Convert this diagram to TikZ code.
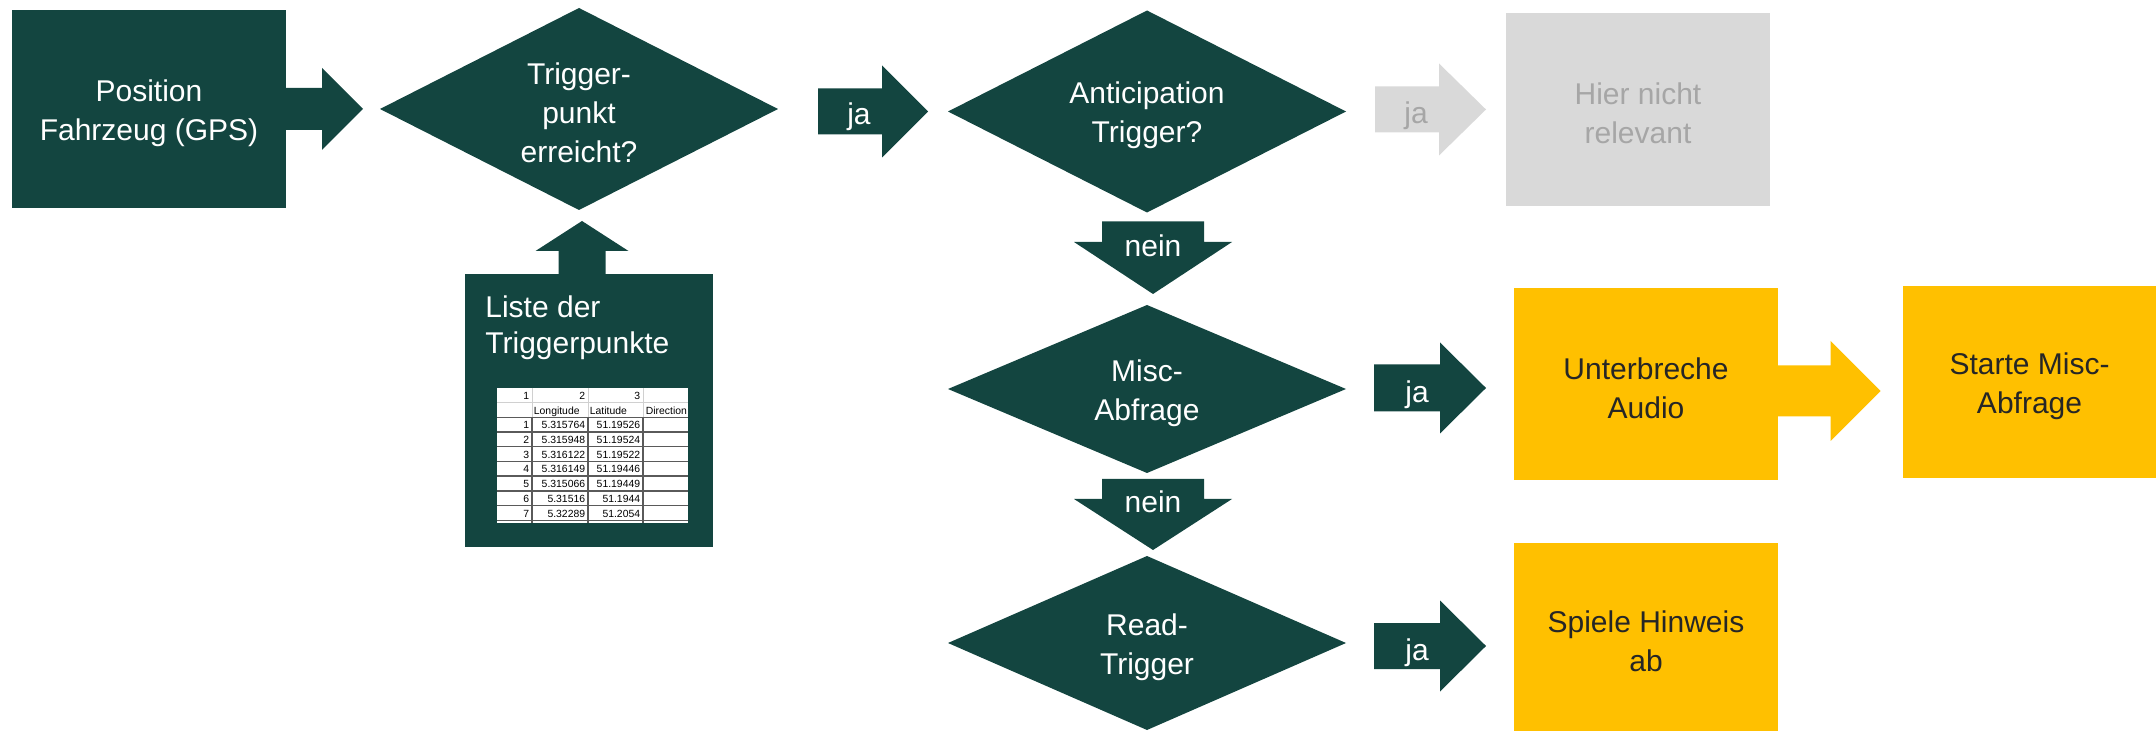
\documentclass[tikz,border=0pt]{standalone}
\usepackage{fontspec}
\setmainfont{Liberation Sans}
\usetikzlibrary{shapes.geometric,calc}

\definecolor{dgreen}{HTML}{134540}
\definecolor{amber}{HTML}{FFC000}
\definecolor{lgray}{HTML}{D9D9D9}
\definecolor{tgray}{HTML}{A6A6A6}
\definecolor{dtext}{HTML}{262626}
\definecolor{gridlight}{HTML}{D0D0D0}
\definecolor{griddark}{HTML}{5A5A5A}

% a taller first line sets a text block a little lower in its shape
\newcommand\toppad{\rule{0pt}{14.8pt}}

% block arrows: #1 start, #2 tip, #3 shaft half width, #4 head half width, #5 head length, #6 fill
\newcommand\fatarrowright[6]{%
  \fill[#6] let \p1=(#1), \p2=(#2) in
    (\x1,\y2+#3) -- (\x2-#5,\y2+#3) -- (\x2-#5,\y2+#4) -- (\x2,\y2)
    -- (\x2-#5,\y2-#4) -- (\x2-#5,\y2-#3) -- (\x1,\y2-#3) -- cycle;}
\newcommand\fatarrowdown[6]{%
  \fill[#6] let \p1=(#1), \p2=(#2) in
    (\x2-#3,\y1) -- (\x2-#3,\y2+#5) -- (\x2-#4,\y2+#5) -- (\x2,\y2)
    -- (\x2+#4,\y2+#5) -- (\x2+#3,\y2+#5) -- (\x2+#3,\y1) -- cycle;}
\newcommand\fatarrowup[6]{%
  \fill[#6] let \p1=(#1), \p2=(#2) in
    (\x2-#3,\y1) -- (\x2-#3,\y2-#5) -- (\x2-#4,\y2-#5) -- (\x2,\y2)
    -- (\x2+#4,\y2-#5) -- (\x2+#3,\y2-#5) -- (\x2+#3,\y1) -- cycle;}

\begin{document}
\begin{tikzpicture}[x=0.5pt,y=-0.5pt,
  txt/.style={font=\fontsize{15pt}{19.5pt}\selectfont, align=center},
  greenbox/.style={txt, rectangle, fill=dgreen, text=white, inner sep=0pt, outer sep=0pt},
  yellowbox/.style={txt, rectangle, fill=amber, text=dtext, inner sep=0pt, outer sep=0pt},
  greybox/.style={txt, rectangle, fill=lgray, text=tgray, inner sep=0pt, outer sep=0pt},
  decision/.style={txt, diamond, aspect=2, fill=dgreen, text=white, inner sep=0pt, outer sep=0pt,
    minimum width=199pt},
  lbl/.style={txt, text=white, inner sep=0pt},
  cell/.style={font=\fontsize{5.2pt}{6pt}\selectfont, inner sep=0pt, text=black},
  hdrline/.style={draw=gridlight, line width=0.5pt},
  rowline/.style={draw=griddark, line width=0.7pt}]

\useasboundingbox (0,0) rectangle (2156,731);

% ---- boxes and decisions ----
\node[greenbox, minimum width=137pt, minimum height=99pt] (pos) at (149,109) {\toppad Position\\Fahrzeug (GPS)};
\node[decision, minimum height=101pt] (d1) at (579,109) {\toppad Trigger-\\punkt\\erreicht?};
\node[decision, minimum height=101pt] (d2) at (1147,111.5) {\toppad Anticipation\\Trigger?};
\node[greybox, minimum width=132pt, minimum height=96.5pt] (grey) at (1638,109.5) {\toppad Hier nicht\\relevant};
\node[decision, minimum height=84pt] (d3) at (1147,389) {\toppad Misc-\\Abfrage};
\node[decision, minimum height=87pt] (d4) at (1147,643) {\toppad Read-\\Trigger};
\node[yellowbox, minimum width=132pt, minimum height=96pt] (unt) at (1646,384) {\toppad Unterbreche\\Audio};
\node[yellowbox, minimum width=127pt, minimum height=96pt] (starte) at (2029.5,382) {\toppad Starte Misc-\\Abfrage};
\node[yellowbox, minimum width=132pt, minimum height=94pt] (spiele) at (1646,637) {\toppad Spiele Hinweis\\ab};
\node[greenbox, minimum width=124pt, minimum height=136.5pt] (liste) at (589,410.5) {};
\node[txt, text=white, align=left, anchor=north west, inner sep=0pt,
  font=\fontsize{15pt}{18pt}\selectfont] (listetxt) at (485,295) {Liste der\\Triggerpunkte};

% ---- block arrows ----
\fatarrowright{pos.east}{[xshift=-8.5pt]d1.west}{10.5pt}{20.5pt}{20.5pt}{dgreen}
\fatarrowright{[xshift=20pt]d1.east}{[xshift=-10pt]d2.west}{11.5pt}{23pt}{23pt}{dgreen}
\fatarrowright{[xshift=14.5pt]d2.east}{[xshift=-10pt]grey.west}{11.5pt}{23pt}{23.5pt}{lgray}
\fatarrowright{[xshift=14pt]d3.east}{[xshift=-14pt,yshift=-2pt]unt.west}{11.75pt}{22.75pt}{23pt}{dgreen}
\fatarrowright{[xshift=14pt]d4.east}{[xshift=-14pt,yshift=-4.5pt]spiele.west}{11.5pt}{22.75pt}{23pt}{dgreen}
\fatarrowright{unt.east}{[xshift=-11pt,yshift=-4.5pt]starte.west}{12.75pt}{25pt}{25pt}{amber}
\fatarrowdown{[yshift=-4.5pt]d2.south}{[xshift=3pt,yshift=5.5pt]d3.north}{25.5pt}{39.5pt}{26pt}{dgreen}
\fatarrowdown{[yshift=-3pt]d3.south}{[xshift=3pt,yshift=3pt]d4.north}{25.5pt}{39.5pt}{25.5pt}{dgreen}
\fatarrowup{liste.north}{[xshift=1.5pt,yshift=-5.5pt]d1.south}{11.75pt}{23.25pt}{15pt}{dgreen}

% ---- arrow labels ----
\node[lbl] (ja1) at (859,117) {ja};
\node[lbl, text=tgray] (ja2) at (1416,116) {ja};
\node[lbl] (ja3) at (1417,395) {ja};
\node[lbl] (ja4) at (1417,653) {ja};
\node[lbl] (nein1) at (1153,246) {nein};
\node[lbl] (nein2) at (1153,502) {nein};

% ---- table of trigger points ----
\begin{scope}
  \clip (497,388) rectangle (688,523);
  \fill[white] (497,388) rectangle (688,523);
  % header grid
  \draw[hdrline] (497,402.7) -- (688,402.7);
  \foreach \cx in {532,588,643}
    \draw[hdrline] (\cx,388) -- (\cx,417.4);
  % data grid
  \foreach \k in {2,...,9} {
    \pgfmathsetmacro\yy{388+14.7*\k}
    \draw[rowline] (497,\yy) -- (688,\yy);
  }
  \foreach \cx in {532,588,643}
    \draw[rowline] (\cx,417.4) -- (\cx,523);
  % header cells
  \node[cell, anchor=base east] (h-1) at (529.5,399.4) {1};
  \node[cell, anchor=base east] (h-2) at (585.5,399.4) {2};
  \node[cell, anchor=base east] (h-3) at (640.5,399.4) {3};
  \node[cell, anchor=base west] (h-lon) at (533.5,414.1) {Longitude};
  \node[cell, anchor=base west] (h-lat) at (589.5,414.1) {Latitude};
  \node[cell, anchor=base west] (h-dir) at (645.5,414.1) {Direction};
  % data cells
  \foreach \r/\lo/\la in {1/5.315764/51.19526, 2/5.315948/51.19524, 3/5.316122/51.19522,
      4/5.316149/51.19446, 5/5.315066/51.19449, 6/5.31516/51.1944, 7/5.32289/51.2054} {
    \pgfmathsetmacro\yb{388+14.7*(\r+2)-3.3}
    \node[cell, anchor=base east] (r\r-i) at (529.5,\yb) {\r};
    \node[cell, anchor=base east] (r\r-lon) at (585.5,\yb) {\lo};
    \node[cell, anchor=base east] (r\r-lat) at (640.5,\yb) {\la};
  }
\end{scope}

\end{tikzpicture}
\end{document}
